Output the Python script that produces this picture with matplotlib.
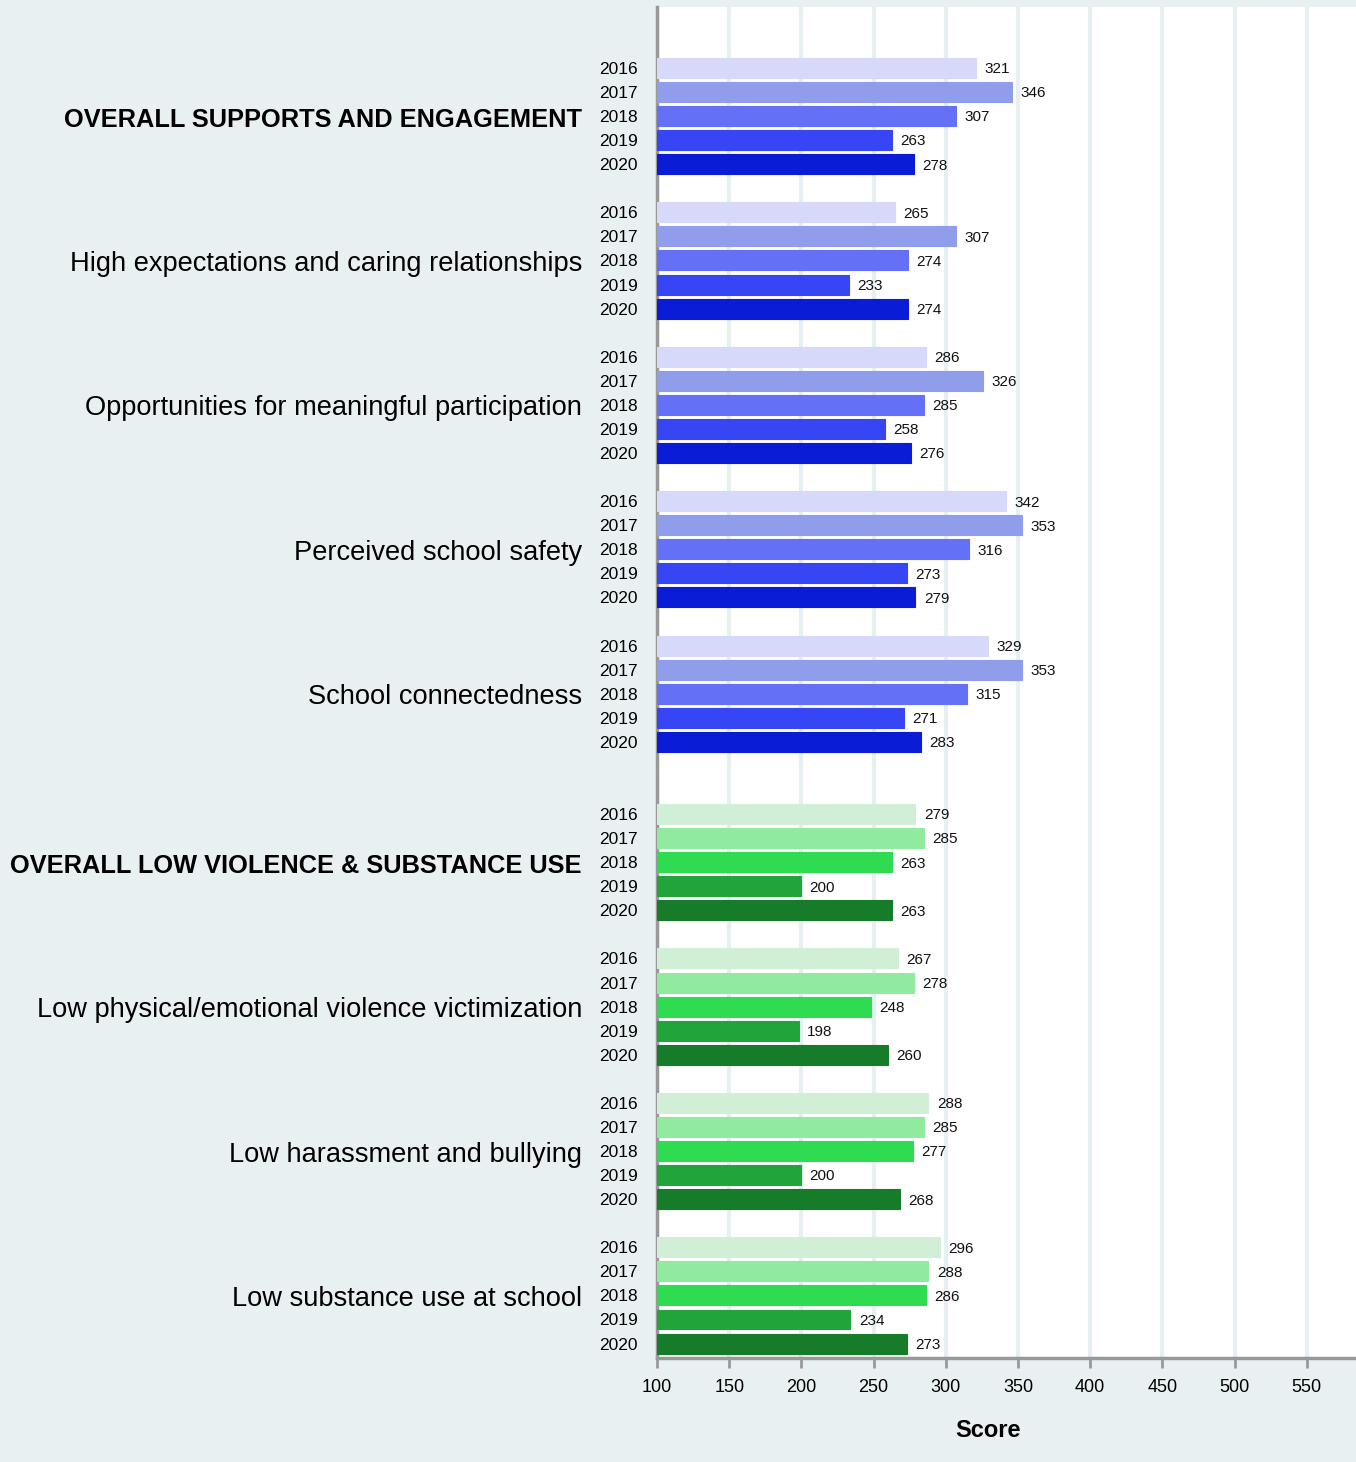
import matplotlib
matplotlib.use("Agg")
import matplotlib.pyplot as plt
import matplotlib.transforms as mtransforms
import numpy as np

plt.rcParams['font.family'] = ['Liberation Sans', 'DejaVu Sans']

categories = [
    "OVERALL SUPPORTS AND ENGAGEMENT",
    "High expectations and caring relationships",
    "Opportunities for meaningful participation",
    "Perceived school safety",
    "School connectedness",
    "OVERALL LOW VIOLENCE & SUBSTANCE USE",
    "Low physical/emotional violence victimization",
    "Low harassment and bullying",
    "Low substance use at school",
]
bold_flags = [True, False, False, False, False, True, False, False, False]
years = ["2016", "2017", "2018", "2019", "2020"]

scores_2016 = [321, 265, 286, 342, 329, 279, 267, 288, 296]
scores_2017 = [346, 307, 326, 353, 353, 285, 278, 285, 288]
scores_2018 = [307, 274, 285, 316, 315, 263, 248, 277, 286]
scores_2019 = [263, 233, 258, 273, 271, 200, 198, 200, 234]
scores_2020 = [278, 274, 276, 279, 283, 263, 260, 268, 273]

blue_colors = ["#d6d9fa", "#8f9deb", "#6470f6", "#3646f5", "#0a1cd6"]
green_colors = ["#d0efd6", "#90eb9e", "#2fdb50", "#21a43a", "#177c2a"]

xticks = [100, 150, 200, 250, 300, 350, 400, 450, 500, 550]

series = [scores_2016, scores_2017, scores_2018, scores_2019, scores_2020]

BG = "#e9f0f2"
fig = plt.figure(figsize=(13.56, 14.62), dpi=100, facecolor=BG)
ax = fig.add_axes([657/1356, 1 - 1358/1462, 1 - 657/1356, (1358 - 7)/1462])
ax.set_facecolor("white")

xmin = 100
rows = []
for gi in range(len(categories)):
    start = gi * 6 + (1 if gi >= 5 else 0)
    rows.append(start)

ytick_pos = []
ytick_lab = []
for gi, cat in enumerate(categories):
    cols = blue_colors if gi < 5 else green_colors
    for yi in range(5):
        y = rows[gi] + yi
        v = series[yi][gi]
        ax.barh(y, v - xmin, left=xmin, height=0.83, color=cols[yi],
                edgecolor=cols[yi], linewidth=0.8, zorder=3)
        ax.annotate(str(v), (v, y), xytext=(6, -1), textcoords="offset points",
                    ha="left", va="center", fontsize=11, color="#111111", zorder=4)
        ytick_pos.append(y)
        ytick_lab.append(years[yi])
    trans = mtransforms.blended_transform_factory(ax.transAxes, ax.transData)
    ax.text(-75/699, rows[gi] + 2.15, cat, transform=trans, ha="right", va="center",
            fontsize=18.3 if bold_flags[gi] else 19.6,
            fontweight="bold" if bold_flags[gi] else "normal",
            color="black")

ax.set_yticks(ytick_pos)
ax.set_yticklabels(ytick_lab, fontsize=12.5)
ax.tick_params(axis="y", length=0, pad=14)
ax.set_ylim(53.6, -2.53)

ax.set_xlim(100, 100 + 50 * (1356 - 657) / 72.2)
ax.set_xticks(xticks)
ax.set_xticklabels([str(t) for t in xticks], fontsize=13)
ax.tick_params(axis="x", length=7, width=2, color="#999999", pad=8)
ax.grid(axis="x", color="#e6eff2", linewidth=3, zorder=0)
ax.set_axisbelow(True)

for s in ["top", "right"]:
    ax.spines[s].set_visible(False)
ax.spines["left"].set_color("#999999")
ax.spines["left"].set_linewidth(2.5)
ax.spines["bottom"].set_color("#999999")
ax.spines["bottom"].set_linewidth(2.5)

ax.set_xlabel("Score", fontsize=17, fontweight="bold")
ax.xaxis.set_label_coords((988 - 657) / 699, -(61 / 1351))

fig.savefig("out.png", dpi=100, facecolor=BG)
